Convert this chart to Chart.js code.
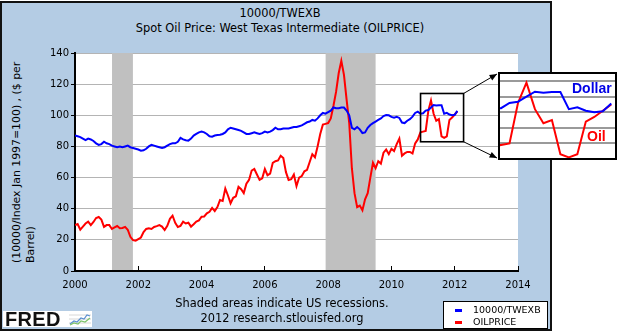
<!DOCTYPE html>
<html>
<head>
<meta charset="utf-8">
<script src="https://cdn.jsdelivr.net/npm/chart.js@4.4.1/dist/chart.umd.min.js"></script>
<style>
  body { margin: 0; width: 620px; height: 335px; background: #fff; position: relative; overflow: hidden;
         font-family: "DejaVu Sans", Verdana, sans-serif; color: #000; }
  #frame { position: absolute; left: 0; top: 1px; width: 552px; height: 330px; box-sizing: border-box;
           border: 2px solid #111; background: #B4CCE4; }
  #main { position: absolute; left: 0; top: 0; }
  .txt { position: absolute; white-space: nowrap; font-size: 11.4px; line-height: 14px; }
  .center { transform: translateX(-50%); }
  #ytitle { position: absolute; left: 10px; top: 263px; width: 200px; transform-origin: 0 0;
            transform: rotate(-90deg); font-size: 10.9px; line-height: 14px; white-space: nowrap; }
  #legend { position: absolute; left: 443px; top: 301px; width: 105px; height: 28px; box-sizing: border-box;
            border: 1px solid #000; background: #fff; font-size: 9.5px; }
  #legend .row { position: absolute; left: 11px; height: 12px; line-height: 12px; }
  #legend .dash { display: inline-block; width: 7px; height: 3px; vertical-align: middle; margin-right: 11px; }
  #fred { position: absolute; left: 3px; top: 311px; width: 89px; height: 16px; background: #fff; }
  #fred span { position: absolute; left: 2px; top: -3px; font: bold 20px "Liberation Sans", Arial, sans-serif;
               letter-spacing: 0.3px; color: #111; }
  #fred svg { position: absolute; left: 66px; top: 1px; }
  #insetBox { position: absolute; border: 2px solid #000; background: #fff; box-sizing: border-box; }
  #inset { position: absolute; left: 0; top: 0; }
  .lbl { position: absolute; font: bold 14px "Liberation Sans", Arial, sans-serif; line-height: 16px; }
</style>
</head>
<body>
<div id="frame"></div>
<div class="txt center" style="left:280px;top:6px;">10000/TWEXB</div>
<div class="txt center" style="left:280px;top:21px;">Spot Oil Price: West Texas Intermediate (OILPRICE)</div>
<div id="ytitle">(10000/Index Jan 1997=100) , ($ per<br>Barrel)</div>
<canvas id="main" width="552" height="300"></canvas>
<div class="txt center" style="left:282px;top:296px;">Shaded areas indicate US recessions.</div>
<div class="txt center" style="left:282px;top:311px;">2012 research.stlouisfed.org</div>
<div id="fred"><span>FRED</span>
  <svg width="22" height="14" viewBox="0 0 22 14">
    <path d="M0 3H22M0 7H22M0 11H22" stroke="#d8d8d8" stroke-width="1"/>
    <polyline points="1,12 5,9 8,10 12,6 15,7 18,3 21,4" fill="none" stroke="#5a8fd0" stroke-width="1.2"/>
    <polyline points="1,13 5,11 9,12 12,9 16,10 21,6" fill="none" stroke="#7cc36a" stroke-width="1.2"/>
  </svg>
</div>
<div id="legend">
  <div class="row" style="top:2px;"><span class="dash" style="background:#0000FF"></span>10000/TWEXB</div>
  <div class="row" style="top:14px;"><span class="dash" style="background:#FF0000"></span>OILPRICE</div>
</div>
<div id="insetBox"><canvas id="inset" width="115" height="84"></canvas></div>
<div class="lbl" style="left:572px;top:80px;color:#0000E6;">Dollar</div>
<div class="lbl" style="left:587px;top:128px;color:#FF0000;">Oil</div>

<script>
// monthly values, Jan 2000 .. Feb 2012
const startYear = 2000;

const oilPrice = [
  29.5, 30.2, 26.5, 28.5, 30.5, 31.7, 29.5, 31.5, 34.0, 34.7, 33.0, 28.3,
  29.5, 29.5, 27.0, 28.0, 28.9, 27.5, 27.6, 28.3, 26.5, 22.0, 19.8, 19.5,
  20.5, 21.5, 25.0, 27.0, 27.5, 27.0, 28.3, 28.8, 29.5, 28.5, 26.3, 29.0,
  33.5, 35.5, 31.0, 28.3, 29.0, 31.7, 30.5, 31.0, 28.5, 30.0, 31.7, 32.5,
  34.9, 35.0, 37.0, 38.0, 40.5, 38.5, 41.0, 45.6, 45.0, 53.0, 48.5, 43.5,
  47.0, 48.0, 54.0, 52.5, 50.0, 56.0, 58.5, 64.5, 65.5, 62.0, 58.5, 59.5,
  65.5, 61.5, 62.5, 69.5, 70.5, 71.0, 74.0, 72.5, 63.5, 58.5, 59.0, 62.0,
  54.5, 60.0, 61.0, 64.0, 65.0, 70.0, 75.0, 73.0, 80.0, 88.0, 94.0, 94.5,
  95.0, 98.0, 106.0, 115.0, 127.0, 135.0, 126.0, 110.0, 95.0, 66.0, 50.0, 41.0,
  42.0, 39.0, 46.0, 50.0, 60.0, 69.5, 66.0, 70.5, 69.0, 76.0, 78.0, 75.0,
  78.5, 77.0, 81.5, 85.0, 74.0, 75.5, 76.5, 76.5, 75.5, 82.0, 84.5, 89.0,
  89.5, 90.0, 103.0, 109.5, 101.0, 96.5, 97.5, 86.5, 85.5, 86.5, 97.0, 98.5,
  100.5, 102.5
];

const dollarIndex = [
  87.0, 86.5, 86.0, 85.0, 84.0, 85.0, 84.5, 83.5, 82.0, 81.0, 81.5, 83.0,
  82.0, 81.5, 80.5, 80.0, 79.5, 80.0, 79.5, 80.0, 80.5, 79.5, 79.0, 78.5,
  78.0, 77.3, 77.5, 78.5, 80.0, 81.0, 80.5, 80.0, 79.5, 79.0, 79.5, 80.5,
  81.5, 82.0, 82.0, 83.0, 85.5, 84.5, 84.0, 83.7, 85.0, 87.0, 88.0, 89.0,
  89.5, 89.0, 88.0, 86.5, 86.3, 87.0, 87.3, 87.5, 88.0, 89.0, 91.0, 92.0,
  91.5, 91.0, 90.5, 90.0, 89.0, 88.0, 88.0, 88.5, 89.0, 88.5, 88.0, 88.5,
  89.5, 89.0, 89.5, 90.5, 92.0, 91.0, 91.0, 91.5, 91.5, 91.5, 92.0, 92.5,
  92.5, 93.0, 93.5, 94.5, 95.5, 96.0, 97.0, 96.5, 98.0, 100.0, 101.5, 101.0,
  102.0, 103.0, 105.0, 104.5, 104.5, 105.0, 105.0, 103.0, 100.0, 92.0, 91.0, 92.5,
  91.0, 88.6, 89.0, 92.0, 93.8, 95.0, 96.0, 97.0, 98.0, 99.5, 100.2, 100.0,
  99.0, 98.5, 99.0, 98.3, 95.3, 95.0, 96.5, 97.5, 99.1, 101.5, 102.3, 101.0,
  101.3, 103.0, 103.4, 105.0, 106.6, 106.3, 106.5, 106.5, 101.0, 101.6, 100.5, 100.0,
  100.3, 102.8
];

const xTicks = [2000, 2002, 2004, 2006, 2008, 2010, 2012, 2014];
const yTicks = [0, 20, 40, 60, 80, 100, 120, 140];
const insetGrid = [90, 95, 100, 105, 110];

const recessionStart = [2001.17, 2007.92];
const recessionEnd = [2001.83, 2009.5];

// region of the main chart that the inset magnifies
const zoomX = [2010.92, 2012.28];
const zoomY = [83, 114];
const insetX = [2010.99, 2012.12];
const insetY = [85.3, 112.3];

const insetBox = { left: 498, top: 72, width: 119, height: 88 };

const months = oilPrice.map((_, i) => startYear + i / 12);
const toPoints = vals => vals.map((v, i) => ({ x: months[i], y: v }));

const font = { family: 'DejaVu Sans', size: 10 };

const makeDatasets = width => [
  { label: '10000/TWEXB', data: toPoints(dollarIndex), borderColor: '#0000FF', borderWidth: width,
    pointRadius: 0, tension: 0, fill: false },
  { label: 'OILPRICE', data: toPoints(oilPrice), borderColor: '#FF0000', borderWidth: width,
    pointRadius: 0, tension: 0, fill: false }
];

const plotBackground = {
  id: 'plotBackground',
  beforeDraw(chart) {
    const { ctx, chartArea: a } = chart;
    ctx.save();
    ctx.fillStyle = '#fff';
    ctx.fillRect(a.left, a.top, a.right - a.left, a.bottom - a.top);
    ctx.restore();
  }
};

const recessions = {
  id: 'recessions',
  beforeDatasetsDraw(chart) {
    const { ctx, chartArea: a, scales: { x } } = chart;
    ctx.save();
    ctx.fillStyle = '#C0C0C0';
    recessionStart.forEach((s, i) => {
      const x0 = x.getPixelForValue(s), x1 = x.getPixelForValue(recessionEnd[i]);
      ctx.fillRect(x0, a.top, x1 - x0, a.bottom - a.top - 1);
    });
    ctx.restore();
  }
};

// grey rules in the inset, placed with the inset's own y scale
const insetGridLines = {
  id: 'insetGridLines',
  beforeDatasetsDraw(chart) {
    const { ctx, chartArea: a } = chart;
    const y = chart.scales.y;
    ctx.save();
    ctx.fillStyle = '#9A9A9A';
    insetGrid.forEach(v => {
      const py = Math.round(y.getPixelForValue(v));
      ctx.fillRect(a.left, py - 1, a.right - a.left, 2);
    });
    ctx.restore();
  }
};

function arrow(ctx, x0, y0, x1, y1) {
  const ang = Math.atan2(y1 - y0, x1 - x0), len = 8;
  ctx.beginPath();
  ctx.moveTo(x0, y0);
  ctx.lineTo(x1, y1);
  ctx.stroke();
  ctx.beginPath();
  ctx.moveTo(x1, y1);
  ctx.lineTo(x1 - len * Math.cos(ang - 0.4), y1 - len * Math.sin(ang - 0.4));
  ctx.lineTo(x1 - len * Math.cos(ang + 0.4), y1 - len * Math.sin(ang + 0.4));
  ctx.closePath();
  ctx.fill();
}

const zoomMarker = {
  id: 'zoomMarker',
  afterDatasetsDraw(chart) {
    const { ctx, scales: { x, y } } = chart;
    const l = x.getPixelForValue(zoomX[0]), r = x.getPixelForValue(zoomX[1]);
    const t = y.getPixelForValue(zoomY[1]), b = y.getPixelForValue(zoomY[0]);
    ctx.save();
    ctx.strokeStyle = '#000';
    ctx.fillStyle = '#000';
    ctx.lineWidth = 1.6;
    ctx.strokeRect(l, t, r - l, b - t);
    ctx.lineWidth = 1;
    arrow(ctx, r, t, insetBox.left - 1, insetBox.top + 2);
    arrow(ctx, r, b, insetBox.left - 1, insetBox.top + insetBox.height - 2);
    ctx.restore();
  }
};

new Chart(document.getElementById('main'), {
  type: 'line',
  data: { datasets: makeDatasets(2) },
  options: {
    responsive: false,
    animation: false,
    layout: { padding: { left: 0, top: 53, right: 34, bottom: 0 } },
    plugins: { legend: { display: false }, tooltip: { enabled: false } },
    scales: {
      x: {
        type: 'linear', min: 2000, max: 2014,
        afterBuildTicks: s => { s.ticks = xTicks.map(v => ({ value: v })); },
        afterFit: s => { s.height = 29; },
        grid: { drawOnChartArea: false, color: '#000', tickLength: -5 },
        border: { color: '#000', width: 2 },
        ticks: { color: '#000', font, padding: 13, maxRotation: 0, autoSkip: false, callback: v => String(v) }
      },
      y: {
        min: 0, max: 140,
        afterBuildTicks: s => { s.ticks = yTicks.map(v => ({ value: v })); },
        afterFit: s => { s.width = 75; },
        grid: { color: '#B4B4B4', tickColor: '#000', tickLength: 4 },
        border: { color: '#000', width: 2 },
        ticks: { color: '#000', font, padding: 2 }
      }
    }
  },
  plugins: [plotBackground, recessions, zoomMarker]
});

const box = document.getElementById('insetBox');
Object.assign(box.style, {
  left: insetBox.left + 'px', top: insetBox.top + 'px',
  width: insetBox.width + 'px', height: insetBox.height + 'px'
});

new Chart(document.getElementById('inset'), {
  type: 'line',
  data: { datasets: makeDatasets(2) },
  options: {
    responsive: false,
    animation: false,
    layout: { padding: 0 },
    plugins: { legend: { display: false }, tooltip: { enabled: false } },
    scales: {
      x: { type: 'linear', display: false, min: insetX[0], max: insetX[1] },
      y: { type: 'linear', display: false, min: insetY[0], max: insetY[1] }
    }
  },
  plugins: [insetGridLines]
});
</script>
</body>
</html>
